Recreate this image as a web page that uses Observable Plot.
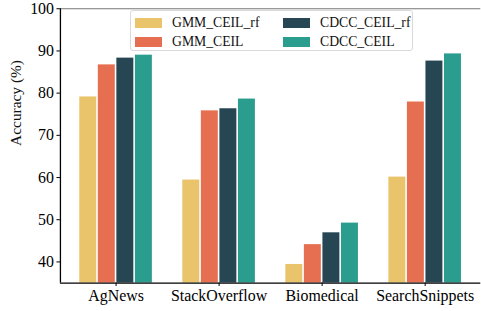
<!DOCTYPE html>
<html>
<head>
<meta charset="utf-8">
<script src="https://cdn.jsdelivr.net/npm/d3@7"></script>
<script src="https://cdn.jsdelivr.net/npm/@observablehq/plot@0.6"></script>
<style>
  html, body { margin: 0; padding: 0; background: #fff; overflow: hidden; }
  #wrap { position: relative; width: 481px; height: 311px; overflow: hidden; }
  #legend {
    position: absolute; left: 130px; top: 10px; width: 281px; height: 39px;
    border: 1px solid #d9d9d9; border-radius: 3px; background: rgba(255,255,255,0.8);
    font-family: "Liberation Serif", "Times New Roman", serif; font-size: 13.7px; color: #111;
  }
  .item { position: absolute; display: flex; align-items: center; }
  .sw { width: 27px; height: 10px; margin-right: 10px; }
  #probe { position: absolute; left: 0; top: 60px; width: 481px; font: 10px monospace; white-space: pre-wrap; word-break: break-all; color: transparent; pointer-events: none; }
</style>
</head>
<body>
<div id="wrap"></div>
<script>
const datasets = ["AgNews", "StackOverflow", "Biomedical", "SearchSnippets"];
const methods = ["GMM_CEIL_rf", "GMM_CEIL", "CDCC_CEIL_rf", "CDCC_CEIL"];
const colors = ["#E9C46A", "#E76F51", "#264653", "#2A9D8F"];
const GMM_CEIL_rf = [79.1, 59.4, 39.4, 60.1];
const GMM_CEIL = [86.7, 75.8, 44.1, 77.9];
const CDCC_CEIL_rf = [88.3, 76.3, 46.9, 87.6];
const CDCC_CEIL = [89.0, 78.6, 49.2, 89.3];
const yTicks = [40, 50, 60, 70, 80, 90, 100];
const yLabel = "Accuracy (%)";

const serif = "Liberation Serif, Times New Roman, serif";
const series = [GMM_CEIL_rf, GMM_CEIL, CDCC_CEIL_rf, CDCC_CEIL];
const barW = 0.18;
const rows = [];
series.forEach((vals, j) => {
  vals.forEach((v, i) => {
    const c = i + (j - 1.5) * barW;
    rows.push({dataset: datasets[i], method: methods[j], value: v, x1: c - barW / 2, x2: c + barW / 2});
  });
});

const xDomain = [-0.54, 3.54];
const chart = Plot.plot({
  width: 484,
  height: 311,
  marginLeft: 60.3,
  marginRight: 0.7,
  marginTop: 8.3,
  marginBottom: 26.7,
  style: {fontFamily: serif, fontSize: "16px"},
  x: {domain: xDomain, axis: null},
  y: {domain: [35, 100], axis: null},
  color: {domain: methods, range: colors},
  marks: [
    Plot.rectY(rows, {x1: "x1", x2: "x2", y1: 35, y2: "value", fill: "method", insetLeft: 0.8, insetRight: 0.8}),
    Plot.ruleY([100], {stroke: "#777", strokeWidth: 1.2}),
    Plot.ruleY([35], {stroke: "#000", strokeWidth: 1.3}),
    Plot.ruleX([xDomain[0]], {stroke: "#000", strokeWidth: 1.3}),
    Plot.axisY(yTicks, {anchor: "left", tickSize: 3.5, tickPadding: 3, fontSize: 16, fontFamily: serif, tickFormat: d => d, label: null}),
    Plot.axisX([0, 1, 2, 3], {anchor: "bottom", tickSize: 3.5, tickPadding: 3, fontSize: 16, fontFamily: serif, tickFormat: i => datasets[i], label: null}),
    Plot.text([yLabel], {frameAnchor: "left", rotate: -90, dx: -45, fontSize: 15.5, fontFamily: serif, fill: "#111", text: d => d})
  ]
});
document.getElementById("wrap").appendChild(chart);

const legend = document.createElement("div");
legend.id = "legend";
const pos = [[4, 4], [4, 23], [152, 4], [152, 23]];
methods.forEach((m, j) => {
  const it = document.createElement("div");
  it.className = "item";
  it.style.left = pos[j][0] + "px";
  it.style.top = pos[j][1] + "px";
  const sw = document.createElement("span");
  sw.className = "sw";
  sw.style.background = colors[j];
  const t = document.createElement("span");
  t.textContent = m;
  it.appendChild(sw); it.appendChild(t);
  legend.appendChild(it);
});
document.getElementById("wrap").appendChild(legend);

// same probe as the run that rendered the SVG text in serif, kept invisible
const tx = chart.querySelectorAll("text");
const cs = getComputedStyle(tx[0]);
const p = document.createElement("div");
p.id = "probe";
p.setAttribute("aria-hidden", "true");
p.textContent = " " + cs.fontFamily + " " + cs.fontSize;
document.getElementById("wrap").appendChild(p);
</script>
</body>
</html>
